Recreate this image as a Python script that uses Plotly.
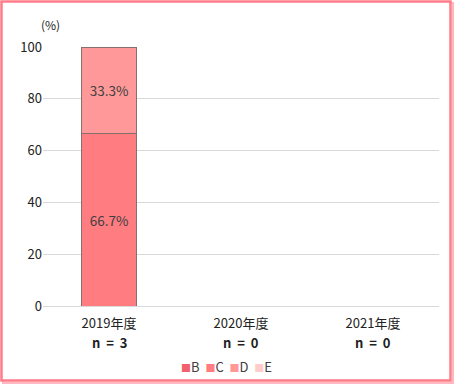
import plotly.graph_objects as go

categories = ["2019年度", "2020年度", "2021年度"]
n_counts = [3, 0, 0]
series_names = ["B", "C", "D", "E"]
series_values = {
    "B": [0, 0, 0],
    "C": [66.7, 0, 0],
    "D": [33.3, 0, 0],
    "E": [0, 0, 0],
}
colors = {"B": "#F2606E", "C": "#FF7C80", "D": "#FF9999", "E": "#FFCCCC"}
y_ticks = [0, 20, 40, 60, 80, 100]

W, H = 455, 384
ML, MR, MT, MB = 43, 16, 47, 78
PW, PH = W - ML - MR, H - MT - MB

FONT = "Noto Sans CJK JP"


def px_x(px):
    return (px - ML) / PW


def px_y(py):
    return (H - MB - py) / PH


fig = go.Figure()
for name in series_names:
    vals = series_values[name]
    fig.add_trace(go.Bar(
        name=name,
        x=categories,
        y=vals,
        text=[f"{v:.1f}%" if v > 0 else "" for v in vals],
        textposition="inside",
        insidetextanchor="middle",
        textangle=0,
        textfont=dict(family=FONT, size=13.5, color="#404040"),
        marker=dict(color=colors[name], line=dict(color="#86706F", width=1)),
        width=0.41,
        showlegend=False,
        hoverinfo="skip",
    ))

fig.update_layout(
    barmode="stack",
    width=W, height=H,
    margin=dict(l=ML, r=MR, t=MT, b=MB),
    paper_bgcolor="white",
    plot_bgcolor="white",
    font=dict(family=FONT, size=13, color="#222222"),
    xaxis=dict(
        tickmode="array",
        tickvals=categories,
        ticktext=categories,
        showgrid=False,
        showline=False,
        ticks="",
        ticklabelstandoff=8,
        tickfont=dict(family=FONT, size=13, color="#222222"),
        automargin=False,
    ),
    yaxis=dict(
        range=[0, 100],
        tickvals=y_ticks,
        showgrid=True,
        gridcolor="#D9D9D9",
        gridwidth=1,
        zeroline=True,
        zerolinecolor="#D9D9D9",
        zerolinewidth=1,
        showline=False,
        ticks="",
        tickfont=dict(family=FONT, size=13, color="#222222"),
        automargin=False,
    ),
)

# second line of category labels (sample size)
for c, n in zip(categories, n_counts):
    fig.add_annotation(
        text=f"<b>n&nbsp; =&nbsp; {n}</b>", xref="x", yref="paper",
        x=c, y=px_y(342), xanchor="center", yanchor="middle",
        showarrow=False, font=dict(family=FONT, size=13, color="#222222"),
    )

# compact legend row
legend_text = "&nbsp; ".join(
    f"<span style='color:{colors[s]};font-size:10px'>■</span><span style='color:#404040'>{s}</span>"
    for s in series_names
)
fig.add_annotation(
    text=legend_text, xref="paper", yref="paper",
    x=px_x(226), y=px_y(366), xanchor="center", yanchor="middle",
    showarrow=False, font=dict(family=FONT, size=13),
)

fig.add_annotation(
    text="(%)", xref="paper", yref="paper",
    x=px_x(50), y=px_y(25), xanchor="center", yanchor="middle",
    showarrow=False, font=dict(family=FONT, size=12, color="#222222"),
)

# frame with shadow
fig.add_shape(type="rect", xref="paper", yref="paper",
              x0=px_x(3), y0=px_y(383), x1=px_x(453), y1=px_y(3),
              line=dict(color="#FFB8C0", width=2), layer="below")
fig.add_shape(type="rect", xref="paper", yref="paper",
              x0=px_x(1.5), y0=px_y(380.5), x1=px_x(450.5), y1=px_y(1.5),
              line=dict(color="#FF7C88", width=2.5), fillcolor="white", layer="below")

fig.write_html(
    "out.html",
    config={"displayModeBar": False},
    post_script="document.body.style.margin='0';document.body.style.overflow='hidden';",
)
